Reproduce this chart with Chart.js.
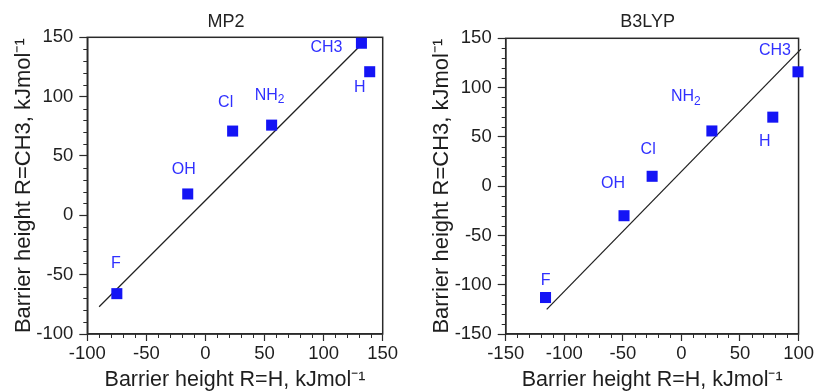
<!DOCTYPE html>
<html><head><meta charset="utf-8">
<script src="https://cdn.jsdelivr.net/npm/chart.js@4.4.1/dist/chart.umd.min.js"></script>
<style>
html,body{margin:0;padding:0;background:#fff;}
#wrap{position:relative;width:816px;height:391px;overflow:hidden;}
.box{position:absolute;top:0;width:408px;height:391px;}
</style></head><body>
<div id="wrap">
  <div class="box" style="left:0"><canvas id="c1"></canvas></div>
  <div class="box" style="left:408px"><canvas id="c2"></canvas></div>
</div>
<script>
// ---- data ----
const species = ['F', 'OH', 'Cl', 'NH2', 'CH3', 'H'];
const mp2X = [-75, -15, 23, 56, 132, 139];
const mp2Y = [-66, 18, 71, 76, 145, 121];
const mp2FitX = [-90, 132];
const mp2FitY = [-77, 144];
const b3lypX = [-116, -49, -25, 26, 99.5, 78];
const b3lypY = [-113, -30, 10, 56, 116, 70];
const b3lypFitX = [-115, 102];
const b3lypFitY = [-125, 139];
const mp2XRange = [-100, 150];
const mp2YRange = [-100, 150];
const b3lypXRange = [-150, 100];
const b3lypYRange = [-150, 150];
const majorStep = 50;
const minorStep = 10;
const panelTitles = ['MP2', 'B3LYP'];
const xTitle = 'Barrier height R=H, kJmol\u207B\u00B9';
const yTitle = 'Barrier height R=CH3, kJmol\u207B\u00B9';

// ---- label placement (pixel offsets from each point) ----
const mp2LabelOffsets = [[-1, -30], [-4, -24], [-7, -28], [-2, -30], [-35, 4], [-10, 16]];
const b3lypLabelOffsets = [[0, -17], [-11, -32], [-4, -27], [-26, -34], [-23, -21], [-8, 24]];

const FONT = "'Liberation Sans', Arial, sans-serif";
const AXIS = '#2a2a2a';
const BLUE = '#1414f5';
const LABEL_BLUE = '#3030ff';

function pts(xs, ys) { return xs.map((x, i) => ({ x: x, y: ys[i] })); }

const decor = {
  id: 'decor',
  beforeDatasetsDraw(chart, args, o) {
    const ctx = chart.ctx, a = chart.chartArea;
    const xs = chart.scales.x, ys = chart.scales.y;
    ctx.save();
    ctx.strokeStyle = AXIS;
    ctx.lineWidth = 1.5;
    ctx.strokeRect(a.left, a.top, a.right - a.left, a.bottom - a.top);
    ctx.lineWidth = 1;
    ctx.beginPath();
    for (let v = xs.min; v <= xs.max + 1e-9; v += minorStep) {
      if (Math.abs(v % majorStep) < 1e-9) continue;
      const p = Math.round(xs.getPixelForValue(v)) + 0.5;
      ctx.moveTo(p, a.bottom); ctx.lineTo(p, a.bottom + 4);
    }
    for (let v = ys.min; v <= ys.max + 1e-9; v += minorStep) {
      if (Math.abs(v % majorStep) < 1e-9) continue;
      const p = Math.round(ys.getPixelForValue(v)) + 0.5;
      ctx.moveTo(a.left - 4, p); ctx.lineTo(a.left, p);
    }
    ctx.stroke();
    ctx.restore();
  },
  afterDatasetsDraw(chart, args, o) {
    const ctx = chart.ctx, a = chart.chartArea;
    ctx.save();
    // panel title
    ctx.fillStyle = '#222';
    ctx.font = '18px ' + FONT;
    ctx.textAlign = 'center';
    ctx.textBaseline = 'middle';
    ctx.fillText(o.title, (a.left + a.right) / 2 + o.titleShift, 22);
    // point labels
    const meta = chart.getDatasetMeta(0);
    ctx.fillStyle = LABEL_BLUE;
    meta.data.forEach((el, i) => {
      const name = o.names[i];
      const [dx, dy] = o.offsets[i];
      const cx = el.x + dx, cy = el.y + dy;
      const m = name.match(/^([A-Za-z]+)(\d)$/);
      if (m && name !== 'CH3') {
        ctx.font = '16px ' + FONT;
        const w1 = ctx.measureText(m[1]).width;
        ctx.font = '12px ' + FONT;
        const w2 = ctx.measureText(m[2]).width;
        const start = cx - (w1 + w2) / 2;
        ctx.textAlign = 'left';
        ctx.font = '16px ' + FONT;
        ctx.fillText(m[1], start, cy);
        ctx.font = '12px ' + FONT;
        ctx.fillText(m[2], start + w1, cy + 5);
      } else {
        ctx.textAlign = 'center';
        ctx.font = '16px ' + FONT;
        ctx.fillText(name, cx, cy);
      }
    });
    ctx.restore();
  }
};

function makeChart(id, xs, ys, fx, fy, xr, yr, cfg) {
  return new Chart(document.getElementById(id), {
    type: 'scatter',
    data: {
      datasets: [
        { data: pts(xs, ys), pointStyle: 'rect', pointRadius: 7.8, pointHoverRadius: 7.8,
          backgroundColor: BLUE, borderColor: BLUE, borderWidth: 0, clip: false, order: 0 },
        { data: pts(fx, fy), showLine: true, pointRadius: 0, borderColor: '#222',
          borderWidth: 1.3, clip: false, order: 1 }
      ]
    },
    options: {
      responsive: true, maintainAspectRatio: false, animation: false, devicePixelRatio: 1,
      layout: { padding: { top: cfg.top, right: cfg.right, bottom: 0, left: 0 } },
      plugins: {
        legend: { display: false }, tooltip: { enabled: false },
        decor: { title: cfg.title, titleShift: cfg.titleShift, names: species, offsets: cfg.offsets }
      },
      scales: {
        x: {
          type: 'linear', min: xr[0], max: xr[1],
          ticks: { stepSize: majorStep, color: '#1e1e1e', font: { family: FONT, size: 18.5 }, padding: 2, maxRotation: 0, autoSkip: false },
          grid: { drawOnChartArea: false, tickLength: 7, tickColor: AXIS, tickWidth: 1.2 },
          border: { color: AXIS, width: 1.5 },
          title: { display: true, text: xTitle, color: '#1e1e1e', font: { family: FONT, size: 21.5, lineHeight: 1 }, padding: { top: 0, bottom: 0 } },
          afterFit: s => { s.height = 57; }
        },
        y: {
          type: 'linear', min: yr[0], max: yr[1],
          ticks: { stepSize: majorStep, color: '#1e1e1e', font: { family: FONT, size: 18.5 }, padding: 6, autoSkip: false },
          grid: { drawOnChartArea: false, tickLength: 8, tickColor: AXIS, tickWidth: 1.2 },
          border: { color: AXIS, width: 1.5 },
          title: { display: true, text: yTitle, color: '#1e1e1e', font: { family: FONT, size: 22, lineHeight: 1 }, padding: { top: cfg.yTitlePad, bottom: 0 } },
          afterFit: s => { s.width = cfg.yWidth; }
        }
      }
    },
    plugins: [decor]
  });
}

makeChart('c1', mp2X, mp2Y, mp2FitX, mp2FitY, mp2XRange, mp2YRange,
  { top: 37.3, right: 25.3, yWidth: 87.3, yTitlePad: 12.5, title: panelTitles[0], titleShift: -9, offsets: mp2LabelOffsets });
makeChart('c2', b3lypX, b3lypY, b3lypFitX, b3lypFitY, b3lypXRange, b3lypYRange,
  { top: 38.3, right: 15.3, yWidth: 97.7, yTitlePad: 23, title: panelTitles[1], titleShift: -4.5, offsets: b3lypLabelOffsets });
</script>
</body></html>
